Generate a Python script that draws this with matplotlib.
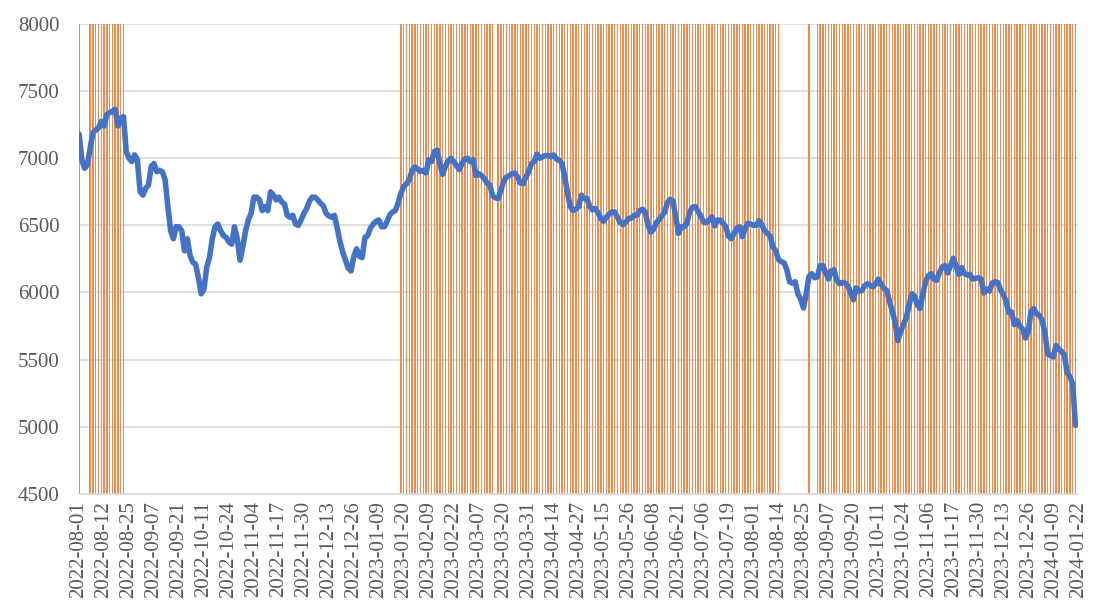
import matplotlib
matplotlib.use("Agg")
import matplotlib.pyplot as plt
import numpy as np

# index level, one value per trading day (2022-08-01 .. 2024-01-22)
close = [
    7180, 6990, 6925, 6950, 7075, 7190, 7210, 7225, 7275, 7240,
    7325, 7340, 7350, 7365, 7240, 7300, 7310, 7050, 7000, 6975,
    7025, 6990, 6750, 6725, 6775, 6800, 6940, 6960, 6900, 6910,
    6900, 6840, 6640, 6460, 6400, 6490, 6490, 6460, 6310, 6400,
    6275, 6225, 6210, 6110, 5990, 6025, 6190, 6260, 6400, 6490,
    6510, 6460, 6425, 6410, 6375, 6360, 6490, 6400, 6240, 6340,
    6460, 6540, 6590, 6710, 6710, 6690, 6610, 6640, 6610, 6750,
    6725, 6690, 6710, 6675, 6660, 6575, 6560, 6575, 6510, 6500,
    6540, 6590, 6625, 6680, 6710, 6710, 6690, 6665, 6645, 6590,
    6570, 6560, 6575, 6480, 6380, 6300, 6240, 6180, 6160, 6270,
    6325, 6270, 6260, 6410, 6425, 6480, 6510, 6530, 6540, 6490,
    6490, 6530, 6580, 6600, 6610, 6670, 6740, 6790, 6810, 6840,
    6910, 6935, 6920, 6900, 6910, 6890, 6990, 6975, 7050, 7060,
    6960, 6880, 6940, 6980, 7000, 6975, 6945, 6915, 6960, 6995,
    7000, 6975, 6990, 6870, 6885, 6870, 6850, 6815, 6800, 6720,
    6705, 6700, 6760, 6830, 6860, 6870, 6885, 6890, 6860, 6815,
    6810, 6860, 6900, 6960, 6975, 7030, 7000, 7010, 7020, 7020,
    7010, 7025, 6995, 6985, 6960, 6860, 6740, 6640, 6610, 6620,
    6640, 6725, 6700, 6700, 6640, 6615, 6625, 6595, 6550, 6530,
    6560, 6585, 6600, 6600, 6560, 6520, 6505, 6525, 6550, 6555,
    6575, 6575, 6610, 6620, 6600, 6500, 6450, 6470, 6520, 6545,
    6570, 6600, 6670, 6695, 6680, 6560, 6440, 6490, 6490, 6515,
    6600, 6635, 6640, 6605, 6570, 6525, 6520, 6540, 6565, 6495,
    6540, 6540, 6515, 6490, 6420, 6400, 6440, 6480, 6490, 6415,
    6480, 6515, 6510, 6500, 6500, 6535, 6505, 6460, 6440, 6420,
    6340, 6310, 6245, 6230, 6220, 6170, 6080, 6070, 6080, 5990,
    5950, 5885, 5990, 6120, 6140, 6110, 6115, 6200, 6200, 6150,
    6100, 6160, 6170, 6090, 6065, 6075, 6070, 6050, 6000, 5945,
    6035, 6010, 6012, 6050, 6065, 6055, 6042, 6062, 6100, 6060,
    6030, 6015, 5935, 5860, 5780, 5640, 5710, 5760, 5810, 5900,
    5990, 5975, 5910, 5880, 5985, 6080, 6125, 6140, 6100, 6090,
    6150, 6190, 6200, 6145, 6200, 6255, 6195, 6135, 6185, 6140,
    6130, 6135, 6100, 6105, 6110, 6100, 5995, 6025, 6010, 6070,
    6080, 6075, 6020, 5985, 5935, 5850, 5855, 5760, 5790, 5750,
    5725, 5660, 5710, 5860, 5880, 5840, 5830, 5790, 5700, 5540,
    5530, 5520, 5605, 5580, 5560, 5535, 5400, 5375, 5320, 5010,
    5030,
]

# days with a signal (first, last index of each run)
signal_runs = [(0, 0), (4, 16), (116, 149), (151, 252), (263, 263), (266, 360)]
signal_value = 8000

# x tick labels, one every 9 trading days
tick_labels = [
    "2022-08-01", "2022-08-12", "2022-08-25", "2022-09-07", "2022-09-21",
    "2022-10-11", "2022-10-24", "2022-11-04", "2022-11-17", "2022-11-30",
    "2022-12-13", "2022-12-26", "2023-01-09", "2023-01-20", "2023-02-09",
    "2023-02-22", "2023-03-07", "2023-03-20", "2023-03-31", "2023-04-14",
    "2023-04-27", "2023-05-15", "2023-05-26", "2023-06-08", "2023-06-21",
    "2023-07-06", "2023-07-19", "2023-08-01", "2023-08-14", "2023-08-25",
    "2023-09-07", "2023-09-20", "2023-10-11", "2023-10-24", "2023-11-06",
    "2023-11-17", "2023-11-30", "2023-12-13", "2023-12-26", "2024-01-09",
    "2024-01-22",
]
tick_step = 9

n = len(close)
x = np.arange(n)
signal = np.zeros(n)
for a, b in signal_runs:
    signal[a:b + 1] = signal_value

plt.rcParams['font.family'] = ['Liberation Serif', 'DejaVu Serif']

fig = plt.figure(figsize=(10.98, 6.15), dpi=100)
ax = fig.add_axes([0.072, 0.197, 0.910, 0.764])

ax.bar(x, signal, width=0.5, color='#F08A4B', linewidth=0, zorder=2)
ax.plot(x, close, color='#4472C4', linewidth=4.0, solid_joinstyle='round',
        solid_capstyle='round', zorder=3)

ax.set_xlim(0, n - 1)
ax.set_ylim(4500, 8000)
ax.set_yticks(np.arange(4500, 8001, 500))
ax.set_xticks(x[::tick_step])
ax.set_xticklabels(tick_labels, rotation=90)

ax.grid(axis='y', color='#D9D9D9', linewidth=1.2, zorder=0)
ax.set_axisbelow(True)
for side in ['top', 'right', 'left']:
    ax.spines[side].set_visible(False)
ax.spines['bottom'].set_color('#D9D9D9')
ax.spines['bottom'].set_linewidth(1.2)
ax.tick_params(axis='both', length=0, labelsize=15, labelcolor='#595959')
ax.tick_params(axis='y', pad=14)
ax.tick_params(axis='x', pad=5)

fig.savefig("out.png", dpi=100)
